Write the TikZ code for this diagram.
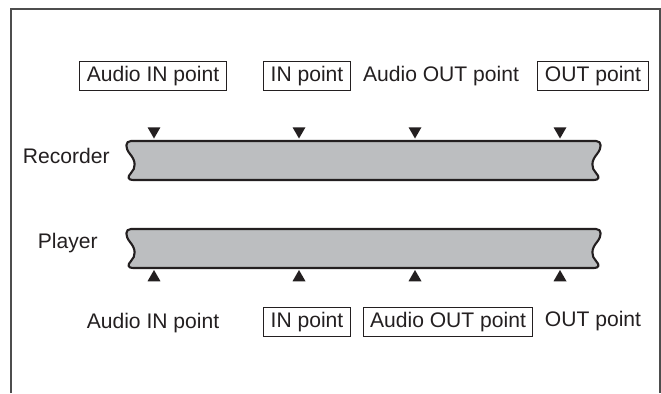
\documentclass[tikz,border=0pt]{standalone}
\usepackage{fontspec}
\setmainfont{Liberation Sans}
\usetikzlibrary{positioning,shapes.geometric}
\definecolor{tpInk}{HTML}{231F20}
\definecolor{tpGrey}{HTML}{BCBEC0}
\definecolor{tpFrame}{HTML}{4D4D4D}
\tikzset{
  frame/.style    ={tpFrame,line width=0.8pt},
  tapebody/.style ={draw=tpInk,fill=tpGrey,line width=1.2pt,line join=round},
  lbl/.style      ={font=\fontsize{12}{14}\selectfont,text=tpInk,inner xsep=4pt,
                    inner ysep=0pt,minimum height=0.58cm},
  ptbox/.style    ={lbl,draw=tpInk,line width=0.6pt},
  cuedown/.style  ={regular polygon,regular polygon sides=3,shape border rotate=180,
                    fill=tpInk,inner sep=0pt,minimum size=0.3cm},
  cueup/.style    ={regular polygon,regular polygon sides=3,
                    fill=tpInk,inner sep=0pt,minimum size=0.3cm},
}
% tape strip, #1 = y of its upper edge
\newcommand{\tapestrip}[1]{%
  \draw[tapebody] (131,#1) -- (596,#1)
    .. controls (602,#1) and (602,#1+7) .. (597,#1+13)
    .. controls (591,#1+20) and (591,#1+27) .. (596,#1+32)
    .. controls (600,#1+36) and (599,#1+39) .. (594,#1+39)
    -- (133,#1+39)
    .. controls (128,#1+39) and (127,#1+36) .. (131,#1+32)
    .. controls (136,#1+27) and (136,#1+20) .. (130,#1+13)
    .. controls (125,#1+7) and (125,#1) .. (131,#1) -- cycle;}

\begin{document}
\begin{tikzpicture}[x=0.02cm,y=-0.02cm]
\useasboundingbox (0,0) rectangle (661,393);
\draw[frame] (11,393) -- (11,9) -- (660,9) -- (660,393);

% recorder side
\node[ptbox] (recAin)  at (153,76) {Audio IN point};
\node[ptbox] (recIn)   at (307,76) {IN point};
\node[lbl]   (recAout) at (441,76) {Audio OUT point};
\node[ptbox] (recOut)  at (593,76) {OUT point};
\tapestrip{141}
\node[lbl,anchor=east] (recName) at (117,156) {Recorder};

% player side
\tapestrip{229}
\node[lbl,anchor=east] (plyName) at (105,243) {Player};
\node[lbl]   (plyAin)  at (153,323) {Audio IN point};
\node[ptbox] (plyIn)   at (307,322) {IN point};
\node[ptbox] (plyAout) at (448,322) {Audio OUT point};
\node[lbl]   (plyOut)  at (593,321) {OUT point};

\foreach \x [count=\i] in {154,299,415,560}
  { \node[cuedown] (rc\i) at (\x,131) {};
    \node[cueup]   (pc\i) at (\x,277.5) {}; }
\end{tikzpicture}
\end{document}
